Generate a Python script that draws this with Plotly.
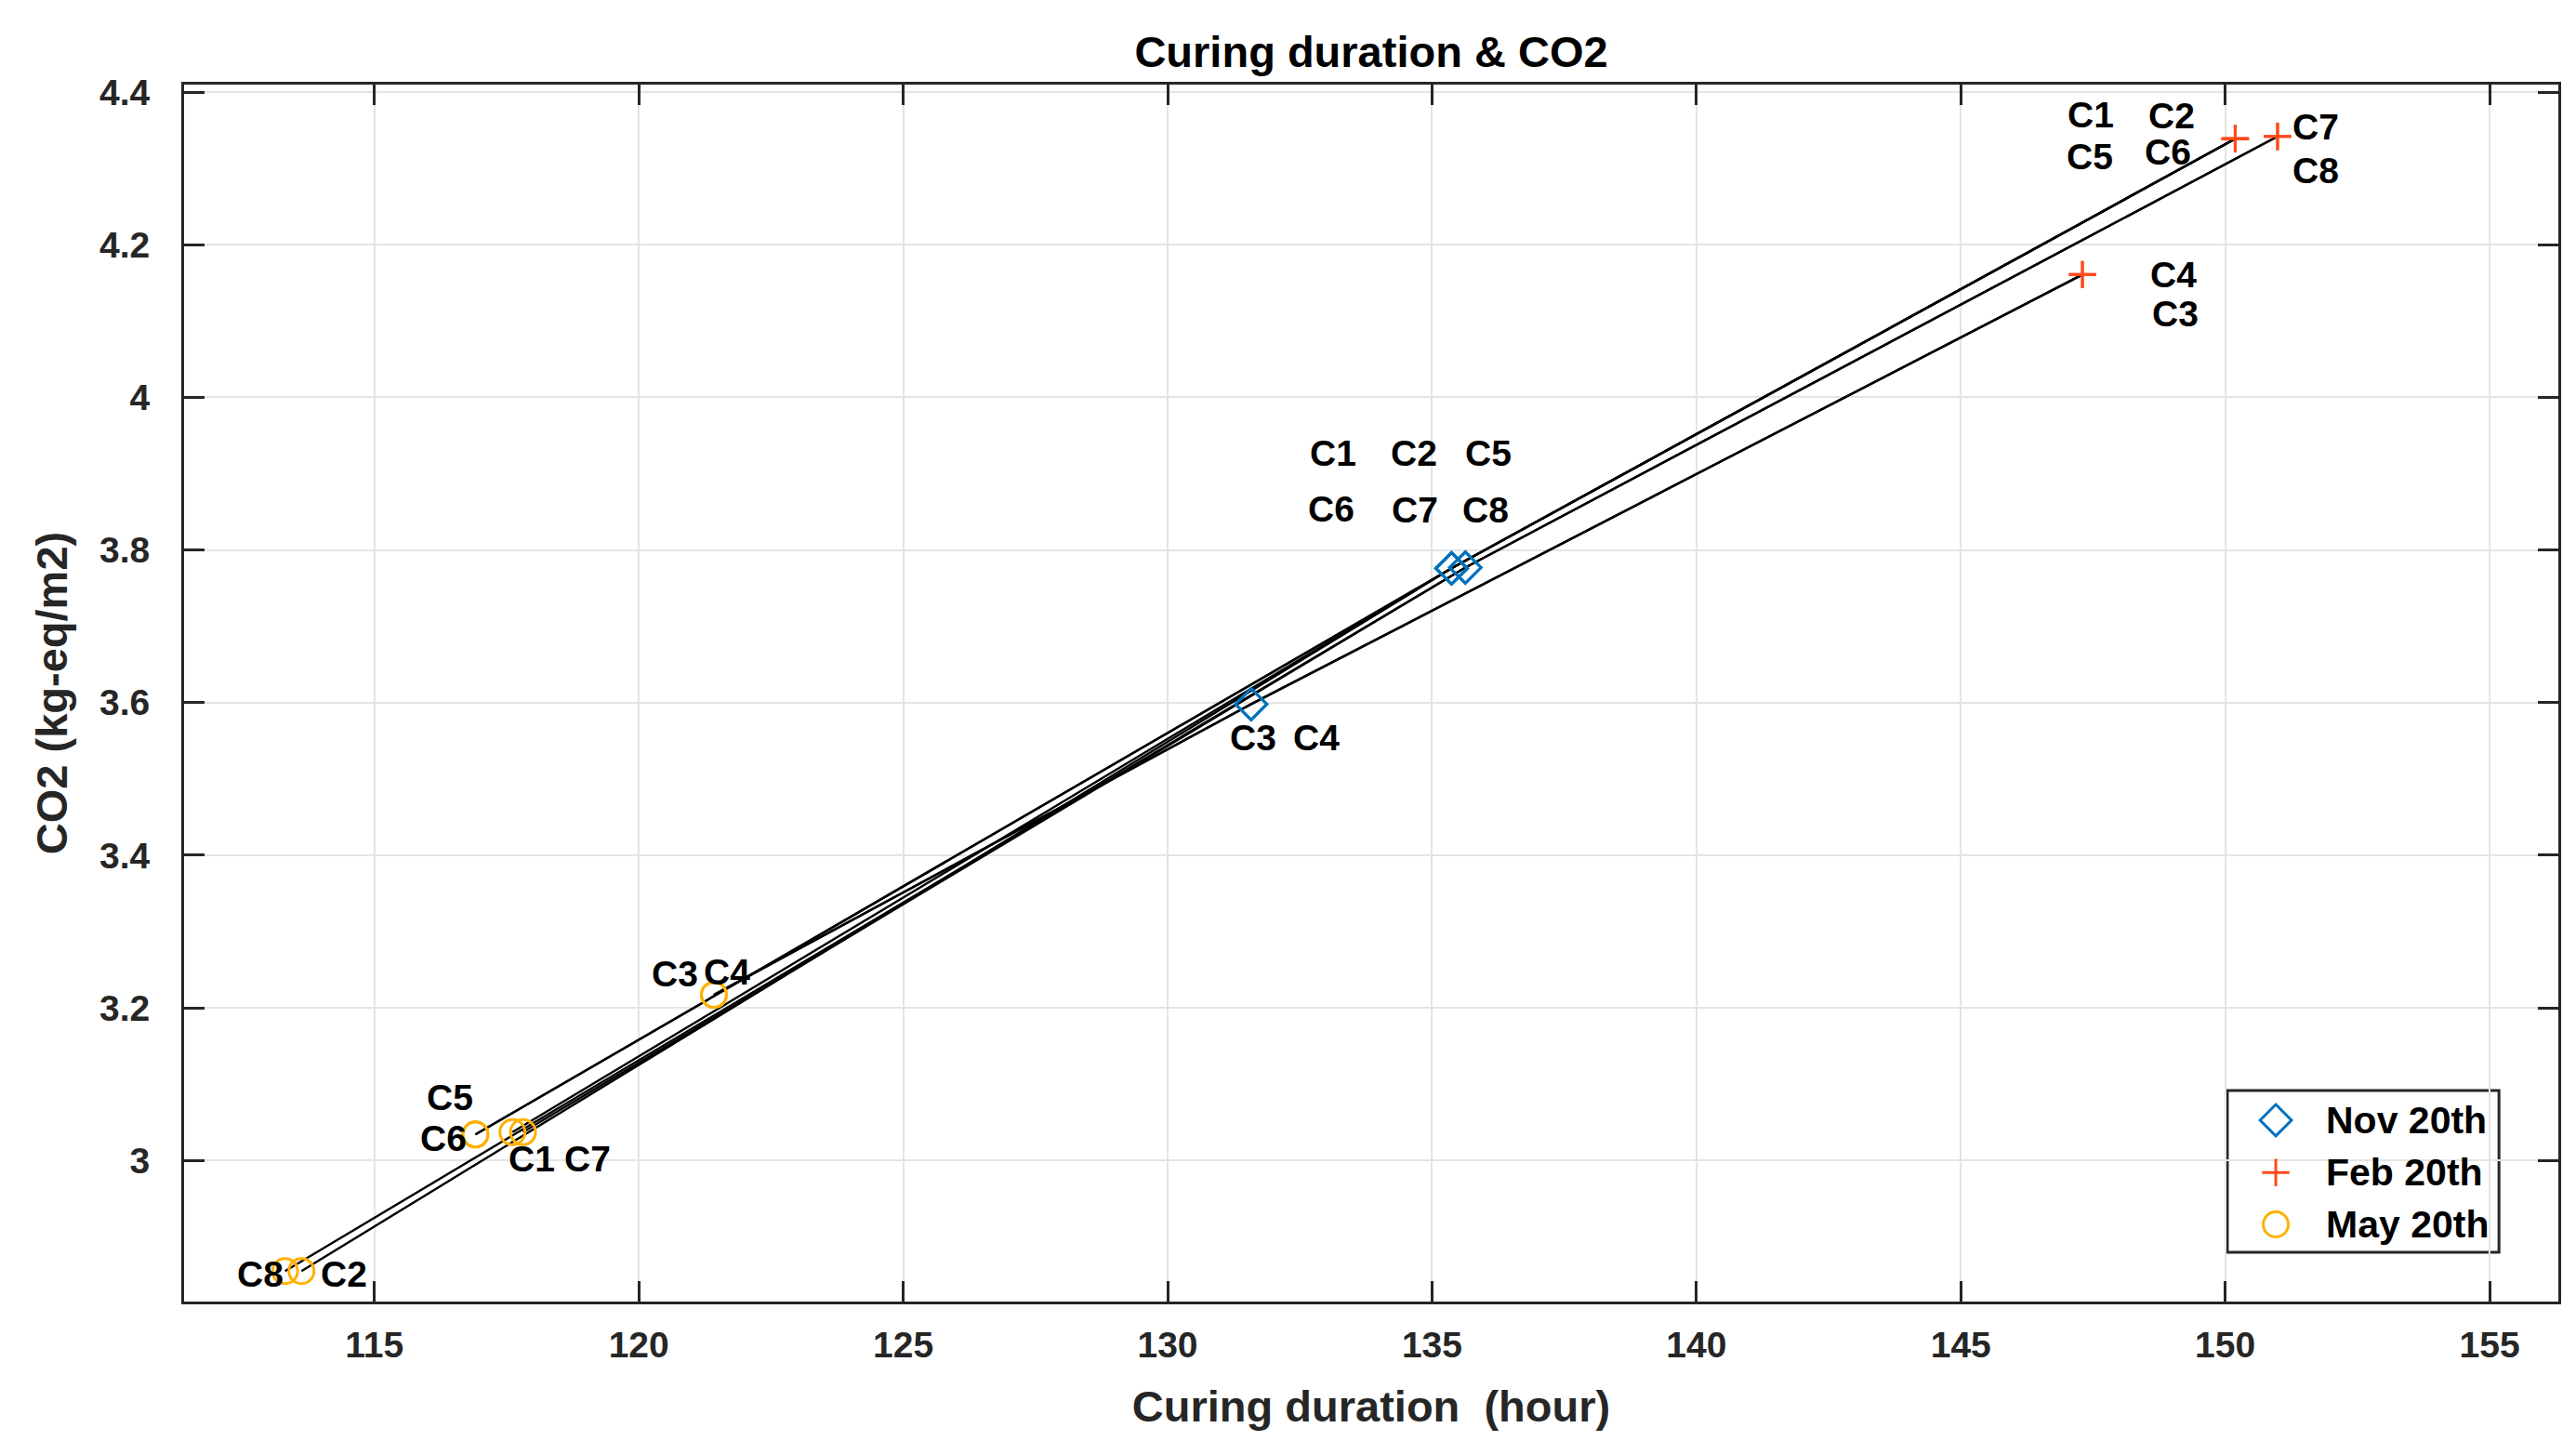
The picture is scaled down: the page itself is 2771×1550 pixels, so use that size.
import plotly.graph_objects as go

# ---------------- data ----------------
configs = ["C1", "C2", "C3", "C4", "C5", "C6", "C7", "C8"]

nov_hours = [135.37, 135.37, 131.58, 131.58, 135.37, 135.37, 135.63, 135.63]
nov_co2 = [3.776, 3.776, 3.598, 3.598, 3.776, 3.776, 3.777, 3.777]

feb_hours = [150.19, 150.19, 147.30, 147.30, 150.19, 150.19, 150.99, 150.99]
feb_co2 = [4.339, 4.339, 4.161, 4.161, 4.339, 4.339, 4.342, 4.342]

may_hours = [117.61, 113.62, 121.42, 121.42, 116.91, 116.91, 117.81, 113.31]
may_co2 = [3.037, 2.855, 3.217, 3.217, 3.034, 3.034, 3.037, 2.855]

series_names = ["Nov 20th", "Feb 20th", "May 20th"]
x_ticks = [115, 120, 125, 130, 135, 140, 145, 150, 155]
y_ticks = [3.0, 3.2, 3.4, 3.6, 3.8, 4.0, 4.2, 4.4]
y_tick_text = ["3", "3.2", "3.4", "3.6", "3.8", "4", "4.2", "4.4"]

# ---------------- styles ----------------
FONT = "Liberation Sans, Arial, sans-serif"
AX = "#262626"
col_nov = "#0072BD"
col_feb = "#FF4A1A"
col_may = "#FFB000"

marker_styles = [
    dict(symbol="diamond-open", size=26, color=col_nov, line=dict(color=col_nov, width=3)),
    dict(symbol="cross-thin-open", size=21, color=col_feb, line=dict(color=col_feb, width=3)),
    dict(symbol="circle-open", size=27, color=col_may, line=dict(color=col_may, width=3)),
]

fig = go.Figure()

# black lines joining each configuration across the three dates
for i, c in enumerate(configs):
    fig.add_trace(go.Scatter(
        x=[may_hours[i], nov_hours[i], feb_hours[i]],
        y=[may_co2[i], nov_co2[i], feb_co2[i]],
        mode="lines", line=dict(color="black", width=2.4),
        showlegend=False, hoverinfo="skip"))

for name, xs, ys, ms in zip(series_names,
                            [nov_hours, feb_hours, may_hours],
                            [nov_co2, feb_co2, may_co2], marker_styles):
    fig.add_trace(go.Scatter(x=xs, y=ys, mode="markers", name=name,
                             marker=ms, showlegend=False))

# label offsets in pixels (dx right, dy down) relative to each point
label_offsets = {
    "Nov": {"C1": (-127, -124), "C2": (-40, -124), "C5": (40, -124),
            "C6": (-129, -64), "C7": (-54, -62), "C8": (22, -62),
            "C3": (2, 36), "C4": (70, 36)},
    "Feb": {"C1": (-155, -26), "C2": (-68, -25), "C5": (-156, 19),
            "C6": (-72, 14), "C7": (41, -10), "C8": (41, 37),
            "C4": (98, 0), "C3": (100, 42)},
    "May": {"C3": (-42, -23), "C4": (14, -25), "C5": (-27, -40),
            "C6": (-34, 4), "C1": (21, 29), "C7": (69, 29),
            "C8": (-27, 3), "C2": (46, 3)},
}
groups = {"Nov": (nov_hours, nov_co2), "Feb": (feb_hours, feb_co2),
          "May": (may_hours, may_co2)}

annotations = []
for g, (xs, ys) in groups.items():
    for i, c in enumerate(configs):
        dx, dy = label_offsets[g][c]
        annotations.append(dict(
            x=xs[i], y=ys[i], xref="x", yref="y", text=c, showarrow=False,
            xshift=dx, yshift=-dy, xanchor="center", yanchor="middle",
            font=dict(family=FONT, size=39, color="black", weight="bold")))

# ---------------- legend (drawn in an overlay 0..1 frame) ----------------
leg_box = dict(x0=0.8606, x1=0.975, y0=0.0405, y1=0.1734)
leg_sym_x = 0.881
leg_txt_x = 0.9013
leg_rows = [0.149, 0.106, 0.0634]
for name, ms, yr in zip(series_names, marker_styles, leg_rows):
    fig.add_trace(go.Scatter(x=[leg_sym_x], y=[yr], xaxis="x2", yaxis="y2",
                             mode="markers", marker=ms, showlegend=False,
                             hoverinfo="skip"))
    annotations.append(dict(
        x=leg_txt_x, y=yr, xref="paper", yref="paper", text=name,
        showarrow=False, xanchor="left", yanchor="middle",
        font=dict(family=FONT, size=41, color="black", weight="bold")))

shapes = [dict(type="rect", xref="paper", yref="paper", layer="between",
               fillcolor="white", line=dict(color=AX, width=3), **leg_box)]

axis_common = dict(
    showgrid=True, gridcolor="#E4E4E4", gridwidth=2,
    showline=True, linecolor=AX, linewidth=3, mirror="ticks",
    ticks="inside", ticklen=22, tickwidth=2.5, tickcolor=AX,
    zeroline=False,
    tickfont=dict(family=FONT, size=39, color=AX, weight="bold"),
)

fig.update_layout(
    width=2771, height=1550,
    margin=dict(l=190, r=27, t=83, b=158),
    paper_bgcolor="white", plot_bgcolor="white",
    title=dict(text="Curing duration & CO2", x=0.5, xref="paper",
               y=1 - 48 / 1550, yref="container", yanchor="middle", xanchor="center",
               font=dict(family=FONT, size=47, color="black", weight="bold")),
    xaxis=dict(range=[111.4, 156.3], tickvals=x_ticks,
               ticktext=[str(v) for v in x_ticks], ticklabelstandoff=10,
               title=dict(text="Curing duration \u00a0(hour)", standoff=30,
                          font=dict(family=FONT, size=47, color=AX, weight="bold")),
               **axis_common),
    yaxis=dict(range=[2.815, 4.41], tickvals=y_ticks, ticktext=y_tick_text,
               ticklabelstandoff=26,
               title=dict(text="CO2 (kg-eq/m2)", standoff=20,
                          font=dict(family=FONT, size=47, color=AX, weight="bold")),
               **axis_common),
    xaxis2=dict(overlaying="x", range=[0, 1], visible=False, anchor="y2"),
    yaxis2=dict(overlaying="y", range=[0, 1], visible=False, anchor="x2"),
    annotations=annotations,
    shapes=shapes,
    showlegend=False,
)

fig.write_html("out.html")
